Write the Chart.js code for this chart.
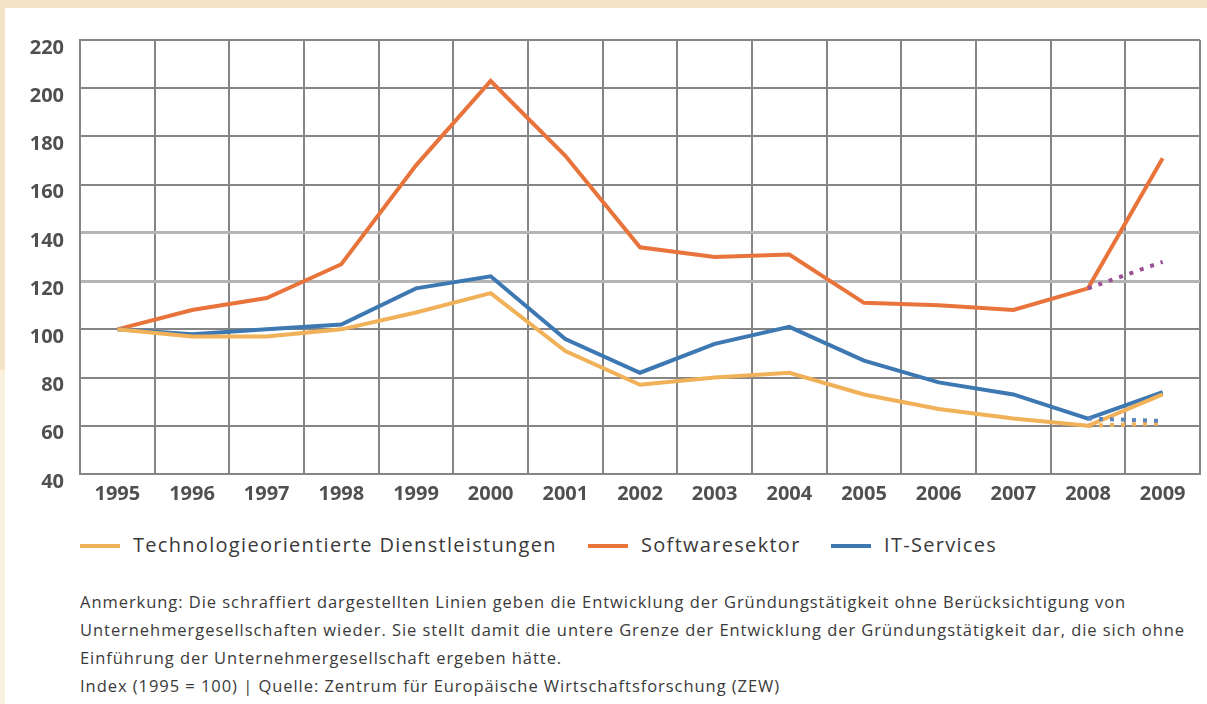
<!DOCTYPE html>
<html>
<head>
<meta charset="utf-8">
<script src="https://cdn.jsdelivr.net/npm/chart.js@4"></script>
<style>
  body { margin: 0; background: #fff; font-family: "Open Sans", sans-serif; }
  #page { position: relative; width: 1207px; height: 704px; overflow: hidden; background: #fff; }
  #topband { position: absolute; left: 0; top: 0; width: 1207px; height: 8px; background: #f5e3c5; }
  #leftband { position: absolute; left: 0; top: 0; width: 5px; height: 704px;
    background: linear-gradient(#f5e3c5 0, #f5e3c5 370px, #faf0de 370px); }
  #chartBox { position: absolute; left: 0; top: 0; width: 1207px; height: 515px; }
  #legend { position: absolute; left: 80px; top: 531px; font-size: 20px; letter-spacing: 1.3px; color: #3a3a3a; white-space: nowrap; }
  .item { position: absolute; top: 0; line-height: 28px; }
  .item i { position: absolute; top: 13px; width: 40px; height: 4px; }
  .item span { position: absolute; left: 53px; }
  #note { position: absolute; left: 80px; top: 588px; font-size: 16.5px; line-height: 28px; color: #3a3a3a; letter-spacing: 0.95px; white-space: nowrap; }
</style>
</head>
<body>
<div id="page">
  <div id="topband"></div>
  <div id="leftband"></div>
  <div id="chartBox"><canvas id="chart"></canvas></div>
  <div id="legend">
    <div class="item" style="left:0"><i style="background:#f0b158"></i><span>Technologieorientierte Dienstleistungen</span></div>
    <div class="item" style="left:508px"><i style="background:#e8743b"></i><span>Softwaresektor</span></div>
    <div class="item" style="left:751px"><i style="background:#3e78b3"></i><span>IT-Services</span></div>
  </div>
  <div id="note">
    Anmerkung: Die schraffiert dargestellten Linien geben die Entwicklung der Gründungstätigkeit ohne Berücksichtigung von<br>
    Unternehmergesellschaften wieder. Sie stellt damit die untere Grenze der Entwicklung der Gründungstätigkeit dar, die sich ohne<br>
    Einführung der Unternehmergesellschaft ergeben hätte.<br>
    Index (1995 = 100) | Quelle: Zentrum für Europäische Wirtschaftsforschung (ZEW)
  </div>
</div>
<script>
const years = ["1995", "1996", "1997", "1998", "1999", "2000", "2001", "2002", "2003", "2004", "2005", "2006", "2007", "2008", "2009"];
const techDienst = [100, 97, 97, 100, 107, 115, 91, 77, 80, 82, 73, 67, 63, 60, 73];
const software = [100, 108, 113, 127, 168, 203, 172, 134, 130, 131, 111, 110, 108, 117, 171];
const itServices = [100, 98, 100, 102, 117, 122, 96, 82, 94, 101, 87, 78, 73, 63, 74];
// ohne Unternehmergesellschaften (gepunktet)
const softwareOhneUG = [null, null, null, null, null, null, null, null, null, null, null, null, null, 117, 128];
const itOhneUG = [null, null, null, null, null, null, null, null, null, null, null, null, null, 63, 62];
const techOhneUG = [null, null, null, null, null, null, null, null, null, null, null, null, null, 60, 61];
const yTicks = [40, 60, 80, 100, 120, 140, 160, 180, 200, 220];

const solid = (label, data, color) => ({
  label, data, borderColor: color, borderWidth: 4, pointRadius: 0, tension: 0, fill: false
});
const dotted = (label, data, color) => ({
  label, data, borderColor: color, borderWidth: 4, borderDash: [4, 7], pointRadius: 0, tension: 0, fill: false
});

const tickFont = { family: "Open Sans", size: 20, weight: "bold" };

const ctx = document.getElementById("chart").getContext("2d");
const chart = new Chart(ctx, {
  type: "line",
  data: {
    labels: years,
    datasets: [
      dotted("Software ohne UG", softwareOhneUG, "#9b4f95"),
      dotted("IT ohne UG", itOhneUG, "#5b86bd"),
      dotted("Tech ohne UG", techOhneUG, "#f0b158"),
      solid("Technologieorientierte Dienstleistungen", techDienst, "#f0b158"),
      solid("IT-Services", itServices, "#3e78b3"),
      solid("Softwaresektor", software, "#e8743b"),
    ],
  },
  options: {
    responsive: true,
    maintainAspectRatio: false,
    animation: false,
    layout: { padding: { left: 5, right: 7, top: 40, bottom: 0 } },
    plugins: {
      legend: { display: false },
      tooltip: { enabled: false },
    },
    scales: {
      x: {
        offset: true,
        grid: { offset: true, color: "#858585", lineWidth: 2, drawTicks: false },
        border: { color: "#858585", width: 2 },
        ticks: {
          color: "#505050",
          padding: 8,
          font: tickFont,
        },
        afterFit: (s) => { s.height = 41; },
      },
      y: {
        min: 40,
        max: 220,
        afterBuildTicks: (s) => { s.ticks = yTicks.map((v) => ({ value: v })); },
        grid: {
          color: (c) => (c.tick && (c.tick.value === 120 || c.tick.value === 140) ? "#b5b5b5" : "#858585"),
          lineWidth: (c) => (c.tick && (c.tick.value === 120 || c.tick.value === 140) ? 3 : 2),
          drawTicks: false,
        },
        border: { color: "#858585", width: 2 },
        ticks: {
          color: "#505050",
          padding: 16,
          labelOffset: 8,
          font: tickFont,
        },
        afterFit: (s) => { s.width = 75; },
      },
    },
  },
});
</script>
</body>
</html>
